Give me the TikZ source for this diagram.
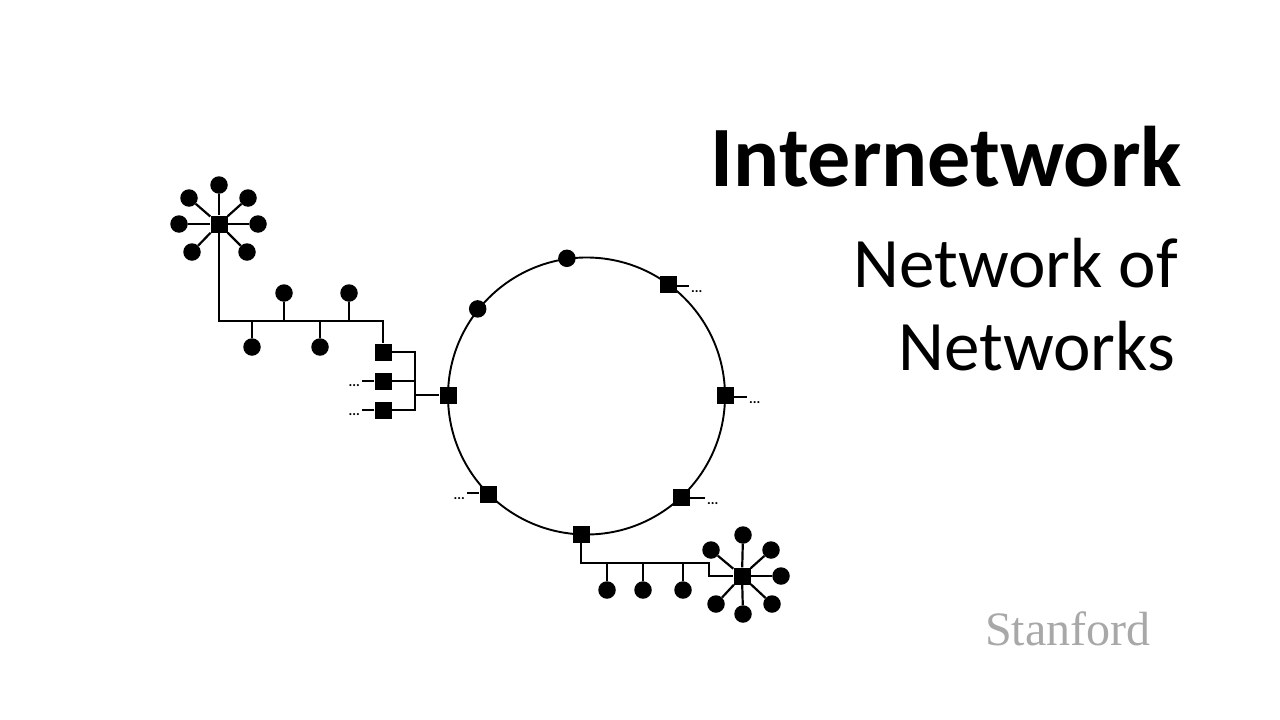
\documentclass[tikz,border=0pt]{standalone}
\usepackage{fontspec}
\setmainfont{Carlito}
\newfontfamily\stanfordfont{Liberation Serif}
\definecolor{stangray}{RGB}{168,168,168}
\begin{document}
\begin{tikzpicture}[x=1pt,y=-1pt,
  host/.style={circle,fill=black,inner sep=0pt,minimum size=17.5pt},
  router/.style={rectangle,fill=black,inner sep=0pt,minimum size=17pt},
  link/.style={line width=2.2pt},
  ringline/.style={line width=1.9pt},
  more/.style={inner sep=0pt,anchor=base west,font=\fontsize{14}{14}\selectfont\bfseries},
  title/.style={inner sep=0pt,anchor=base east}]
\useasboundingbox (0,0) rectangle (1280,720);
% ring
\coordinate (c) at (586.5,396);
\draw[ringline] (c) circle[radius=138.5];
\node[host] (rh1) at (566.9,258.3) {};
\node[host] (rh2) at (477.7,308.9) {};
\node[router] (rtr) at (668,284) {};
\node[router] (rr) at (725,395) {};
\node[router] (rbr) at (681,497) {};
\node[router] (rb) at (581,534.5) {};
\node[router] (rbl) at (488,494) {};
\node[router] (rl) at (448,395) {};
% loose ends of ring routers
\coordinate (etr) at (689,286);
\coordinate (er) at (747,397);
\coordinate (ebr) at (705,498);
\coordinate (ebl) at (467,493);
\draw[link] (rtr.east |- etr) -- (etr);
\draw[link] (rr.east |- er) -- (er);
\draw[link] (rbr.east |- ebr) -- (ebr);
\draw[link] (rbl.west |- ebl) -- (ebl);
\node[more] (dtr) at ([xshift=2pt,yshift=-6pt]etr) {...};
\node[more] (dr) at ([xshift=2pt,yshift=-6pt]er) {...};
\node[more] (dbr) at ([xshift=2pt,yshift=-6pt]ebr) {...};
\node[more,anchor=base east] (dbl) at ([xshift=-2pt,yshift=-6pt]ebl) {...};
% top-left star
\node[router] (ha) at (219,224) {};
\node[host] (a1) at (219,185) {};
\node[host] (a2) at (189,198) {};
\node[host] (a3) at (248,198) {};
\node[host] (a4) at (179,224) {};
\node[host] (a5) at (258,224) {};
\node[host] (a6) at (192,252) {};
\node[host] (a7) at (247,252) {};
\foreach \h in {a1,a2,a3,a4,a5,a6,a7} \draw[link] (ha) -- (\h);
% left bus
\coordinate (b0) at (219,321);
\coordinate (b1) at (252,321);
\coordinate (b2) at (284,321);
\coordinate (b3) at (320,321);
\coordinate (b4) at (349,321);
\coordinate (b5) at (383,321);
\node[host] (l1) at (252,347) {};
\node[host] (l2) at (284,293) {};
\node[host] (l3) at (320,347) {};
\node[host] (l4) at (349,293) {};
\node[router] (g1) at (383,352) {};
\node[router] (g2) at (383,381) {};
\node[router] (g3) at (383,410) {};
\draw[link] (ha) -- (b0) -- (b5) -- (g1);
\draw[link] (b1) -- (l1);
\draw[link] (b2) -- (l2);
\draw[link] (b3) -- (l3);
\draw[link] (b4) -- (l4);
\coordinate (j1) at (415,352);
\coordinate (j2) at (415,381);
\coordinate (j3) at (415,410);
\coordinate (jm) at (415,395);
\draw[link] (g1.east) -- (j1) -- (j3) -- (g3.east);
\draw[link] (g2.east) -- (j2);
\draw[link] (jm) -- (rl.west);
\coordinate (eg2) at (362,381);
\coordinate (eg3) at (362,410);
\draw[link] (g2.west) -- (eg2);
\draw[link] (g3.west) -- (eg3);
\node[more,anchor=base east] (dg2) at ([xshift=-2pt,yshift=-5pt]eg2) {...};
\node[more,anchor=base east] (dg3) at ([xshift=-2pt,yshift=-5pt]eg3) {...};
% bottom-right bus and star
\coordinate (k0) at (581,563);
\coordinate (k1) at (607,563);
\coordinate (k2) at (643,563);
\coordinate (k3) at (683,563);
\coordinate (k4) at (709,563);
\coordinate (k5) at (709,576);
\node[router] (hb) at (742,576) {};
\node[host] (m1) at (607,590) {};
\node[host] (m2) at (643,590) {};
\node[host] (m3) at (683,590) {};
\draw[link] (rb) -- (k0) -- (k4) -- (k5) -- (hb);
\draw[link] (k1) -- (m1);
\draw[link] (k2) -- (m2);
\draw[link] (k3) -- (m3);
\node[host] (s1) at (743,535) {};
\node[host] (s2) at (711,550) {};
\node[host] (s3) at (771,550) {};
\node[host] (s4) at (781,576) {};
\node[host] (s5) at (716,604) {};
\node[host] (s6) at (772,604) {};
\node[host] (s7) at (743,614) {};
\foreach \h in {s1,s2,s3,s4,s5,s6,s7} \draw[link] (hb) -- (\h);
% titles
\node[title,font=\fontsize{86}{86}\selectfont\bfseries] (t1) at (1182,186) {Internetwork};
\node[title,font=\fontsize{71}{71}\selectfont] (t2) at (1178,287) {Network of};
\node[title,font=\fontsize{71}{71}\selectfont] (t3) at (1175,370) {Networks};
\node[inner sep=0pt,anchor=base west,text=stangray,font=\stanfordfont\fontsize{48}{48}\selectfont] (st) at (985,645) {Stanford};
\end{tikzpicture}
\end{document}
